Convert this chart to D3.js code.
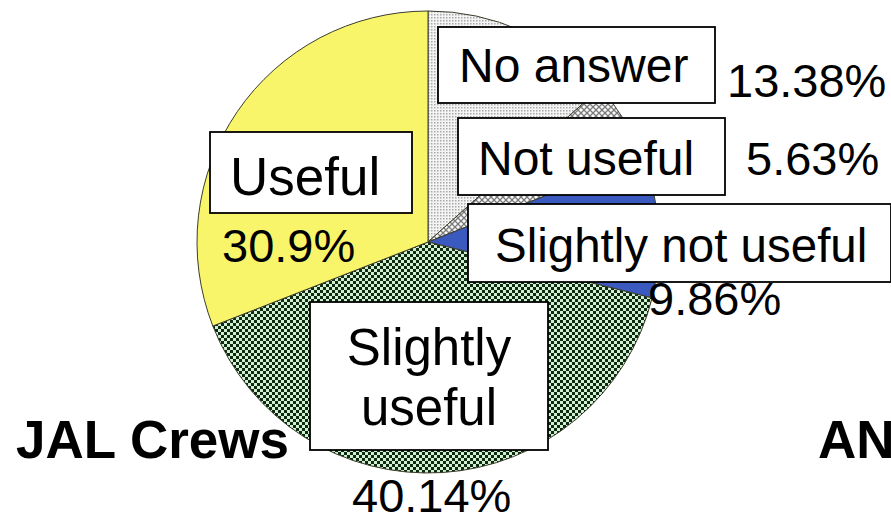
<!DOCTYPE html>
<html>
<head>
<meta charset="utf-8">
<script src="https://cdn.jsdelivr.net/npm/d3@7/dist/d3.min.js"></script>
<style>
html,body{margin:0;padding:0;background:#fff;overflow:hidden;}
svg{display:block;}
</style>
</head>
<body>
<svg id="chart" width="891" height="517"></svg>
<script>
// ---- data ----
const categories = ["No answer", "Not useful", "Slightly not useful", "Slightly useful", "Useful"];
const values = [13.38, 5.63, 9.86, 40.14, 30.9];
const valueLabels = ["13.38%", "5.63%", "9.86%", "40.14%", "30.9%"];
const groupTitles = ["JAL Crews", "AN"];

// ---- layout (label placement, not data) ----
const labelLayout = [
  {box:[438,27,277,76], lines:["No answer"], tx:[459], ty:[82], fs:48, vx:727, vy:97},
  {box:[458,118,267,77], lines:["Not useful"], tx:[478], ty:[175], fs:48, vx:746, vy:175},
  {box:[468,204,423,78], lines:["Slightly not useful"], tx:[495], ty:[262], fs:47.5, vx:648, vy:315},
  {box:[310,302,238,148], lines:["Slightly", "useful"], tx:[429,429], ty:[365,425], fs:51, anchor:"middle", vx:352, vy:512},
  {box:[210,132,202,81], lines:["Useful"], tx:[230], ty:[195], fs:53, vx:222, vy:262}
];

const svg = d3.select("#chart");
const defs = svg.append("defs");

// patterns
const p1 = defs.append("pattern").attr("id","pNoAns").attr("patternUnits","userSpaceOnUse").attr("width",3).attr("height",3);
p1.append("rect").attr("width",3).attr("height",3).attr("fill","#f4f4f4");
p1.append("rect").attr("width",1.5).attr("height",1.5).attr("fill","#a8a8a8");

const p2 = defs.append("pattern").attr("id","pNotUse").attr("patternUnits","userSpaceOnUse").attr("width",6).attr("height",6);
p2.append("rect").attr("width",6).attr("height",6).attr("fill","#fafafa");
p2.append("path").attr("d","M0,0L6,6M6,0L0,6").attr("stroke","#7a7a7a").attr("stroke-width",1.3);

const p4 = defs.append("pattern").attr("id","pSlUse").attr("patternUnits","userSpaceOnUse").attr("width",6).attr("height",6);
p4.append("rect").attr("width",6).attr("height",6).attr("fill","#d2efd2");
p4.append("rect").attr("width",3).attr("height",3).attr("fill","#0f2a12");
p4.append("rect").attr("x",3).attr("y",3).attr("width",3).attr("height",3).attr("fill","#0f2a12");

const fills = d3.scaleOrdinal().domain(categories)
  .range(["url(#pNoAns)", "url(#pNotUse)", "#3a5abf", "url(#pSlUse)", "#f9f56a"]);

const cx = 428, cy = 242, r = 231;
const pie = d3.pie().sort(null).value(d => d.v);
const arcs = pie(categories.map((c,i) => ({c, v: values[i]})));
const arc = d3.arc().innerRadius(0).outerRadius(r);

const g = svg.append("g").attr("transform", `translate(${cx},${cy})`);
g.selectAll("path").data(arcs).join("path")
  .attr("d", arc)
  .attr("fill", d => fills(d.data.c))
  .attr("stroke", "#3c3c2c")
  .attr("stroke-width", 1);

const font = "Liberation Sans, Arial, sans-serif";

// label boxes
const lg = svg.append("g");
labelLayout.forEach((L, i) => {
  lg.append("rect")
    .attr("x", L.box[0]).attr("y", L.box[1])
    .attr("width", L.box[2]).attr("height", L.box[3])
    .attr("fill", "#fff").attr("stroke", "#000").attr("stroke-width", 1.8);
  L.lines.forEach((t, j) => {
    lg.append("text")
      .attr("x", L.tx[j]).attr("y", L.ty[j])
      .attr("text-anchor", L.anchor || "start")
      .attr("font-family", font).attr("font-size", L.fs)
      .attr("fill", "#000").text(t);
  });
  lg.append("text")
    .attr("x", L.vx).attr("y", L.vy)
    .attr("font-family", font).attr("font-size", 47)
    .attr("fill", "#000").text(valueLabels[i]);
});

// group titles
svg.append("text").attr("x", 16).attr("y", 458)
  .attr("font-family", font).attr("font-size", 53).attr("font-weight", "bold")
  .text(groupTitles[0]);
svg.append("text").attr("x", 818).attr("y", 458)
  .attr("font-family", font).attr("font-size", 53).attr("font-weight", "bold")
  .text(groupTitles[1]);
</script>
</body>
</html>
